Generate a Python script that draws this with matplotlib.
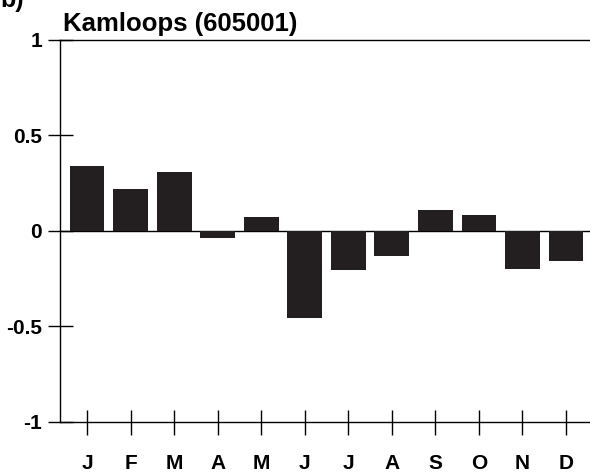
import matplotlib.pyplot as plt

months = ["J", "F", "M", "A", "M", "J", "J", "A", "S", "O", "N", "D"]
values = [0.34, 0.22, 0.31, -0.035, 0.075, -0.455, -0.205, -0.13, 0.11, 0.085, -0.20, -0.16]
yticks = [-1, -0.5, 0, 0.5, 1]
ytick_labels = ["-1", "-0.5", "0", "0.5", "1"]

plt.rcParams["font.family"] = ["Liberation Sans", "DejaVu Sans"]

fig = plt.figure(figsize=(5.9, 4.76), dpi=100)
ax = fig.add_axes([0.1017, 0.114, 0.8983, 0.802])

x = list(range(len(months)))
ax.bar(x, values, width=0.8, color="#231f20", zorder=3)
ax.axhline(0, color="black", lw=1.0, zorder=2)

ax.set_xlim(-0.62, 11.55)
ax.set_ylim(-1, 1)
ax.set_xticks(x)
ax.set_xticklabels(months, fontsize=15, fontweight="bold")
ax.set_yticks(yticks)
ax.set_yticklabels(ytick_labels, fontsize=15, fontweight="bold")
ax.tick_params(axis="both", direction="inout", length=18, width=1.0)
ax.tick_params(axis="x", pad=14)
ax.tick_params(axis="y", pad=4)

ax.spines["right"].set_visible(False)
for side in ["left", "top", "bottom"]:
    ax.spines[side].set_linewidth(1.0)

ax.text(0.005, 1.01, "Kamloops (605001)", transform=ax.transAxes,
        fontsize=18.5, fontweight="bold", ha="left", va="bottom")
fig.text(0.0, 1.0, "b)", fontsize=18, fontweight="bold", ha="left", va="center")

fig.savefig("out.png", dpi=100)
